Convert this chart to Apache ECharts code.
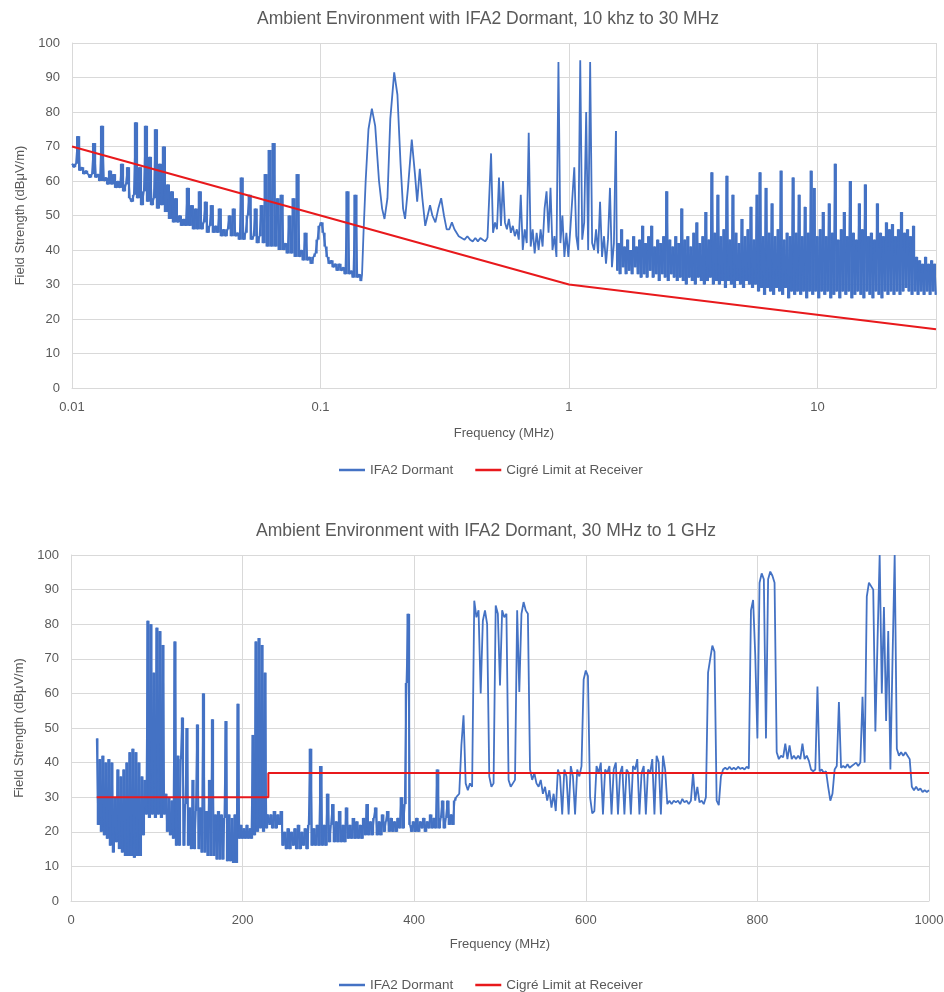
<!DOCTYPE html>
<html><head><meta charset="utf-8">
<script src="https://cdn.jsdelivr.net/npm/echarts@6/dist/echarts.min.js"></script>
<style>html,body{margin:0;padding:0;background:#fff}#c{width:944px;height:992px}</style>
</head><body><div id="c"></div>
<script>
// ---------- Top chart: 10 kHz to 30 MHz (log frequency axis) ----------
const topTitle = 'Ambient Environment with IFA2 Dormant, 10 khz to 30 MHz';
const topTickLabels = ['0.01', '0.1', '1', '10'];
// sweep 1: 0.01 -> 0.146 MHz (levels read in order of frequency)
const topSweep1Range = [0.01, 0.146];
const topSweep1 = [65,64,65,73,63,64,62,63,62,61,62,71,61,62,60,76,60,61,59,63,59,62,58,60,58,65,57,59,64,55,
  54,56,77,55,64,53,57,76,54,67,53,55,75,52,65,53,70,51,59,49,57,48,55,48,50,47,49,47,58,47,
  53,46,52,46,57,46,48,54,45,47,53,45,47,45,52,44,46,44,46,50,44,52,44,45,43,61,43,45,50,56,
  43,44,52,42,44,53,42,62,41,69,41,71,41,55,40,56,40,42,39,50,39,55,38,62,38,40,37,45,37,38,
  36,38,39,43,47,48,45,41,38,36,37,35,36,34,36,34,35,33,57,33,34,32,56,32,33,31];
// LF resonance peaks 0.147 -> 0.47 MHz
const topPeakFreq = [0.147,0.149,0.152,0.156,0.161,0.166,0.172,0.177,0.181,0.186,0.191,0.198,0.204,0.21,0.215,0.219,0.225,0.233,0.24,0.245,0.251,0.257,0.264,0.27,0.276,0.282,0.29,0.298,0.306,0.314,0.322,0.33,0.338,0.346,0.36,0.38,0.39,0.4,0.41,0.42,0.43,0.44,0.45,0.46,0.47];
const topPeakLevel = [33,45,60,75,81,76,60,52,49,55,78,91.5,85,65,52,49,58,72,62,54,63.5,55,47,50,53,50,48,52,55,50,46,46,48,46,44,43,44,43,42.5,43.5,42.5,43.5,43,42.5,43.5];
// sweep 2: 0.477 -> 1.545 MHz (MW broadcast)
const topSweep2Range = [0.477, 1.545];
const topSweep2 = [43,68,45,48,46,61,47,60,48,46,49,45,47,44,46,43,56,40,46,42,74,41,46,39,45,40,46,41,52,57,
  45,58,40,44,38,94.5,42,50,38,45,38,46,55,64,44,40,95,43,48,80,40,94.5,42,40,46,39,54,38,44,36,
  43,58,35,42,74.5];
// sweep 3: 1.56 -> 30 MHz (HF)
const topSweep3Range = [1.56, 30];
const topSweep3 = [34,42,33,46,35,41,33,43,34,40, 33,44,35,41,33,43,32,47,33,42, 32,44,34,47,32,41,33,43,31,42,
  33,44,32,57,31,43,33,41,32,44, 31,42,32,52,31,43,30,44,32,41, 31,45,30,48,32,42,31,44,30,51,
  31,43,32,62.5,30,45,31,56,30,44, 31,46,29,61.5,31,43,30,56,29,45, 31,42,30,49,29,44,31,46,30,52.5,
  29,43,30,56,28,62.5,29,44,27,58, 29,45,28,53.5,27,44,29,46,28,63, 27,43,29,45,26,44,28,61,27,45,
  28,56,27,44,28,52.5,26,45,28,63, 27,58,28,44,26,46,28,51,27,44, 28,53.5,26,45,27,65,28,43,26,46,
  28,51,27,44,28,60,26,45,27,43, 28,53.5,27,46,26,59,28,44,27,45, 26,43,28,53.5,27,45,26,44,28,48,
  27,46,28,47.5,27,44,28,46,27,51, 28,45,29,46,28,44,27,47,28,38, 27,37,28,36,27,38,28,36,27,37,
  28,36,27];
const topLimitFreq = [0.01, 1, 30];
const topLimitLevel = [70, 30, 17];

// ---------- Bottom chart: 30 MHz to 1 GHz (linear axis) ----------
const botTitle = 'Ambient Environment with IFA2 Dormant, 30 MHz to 1 GHz';
const botSweep1Range = [30, 229.5];
const botSweep1 = [47,22,41,20,42,19,40,18,41,16, 40,14,30,17,38,15,36,14,38,13, 40,13,43,13,44,12.5,43,13,40,13,
  36,19,35,25,81,24,80,25,66,24, 79,25,78,24,74,25,31,20,30,19, 29,18,75,16,42,16,41,53,16,28,
  50,16,27,15,35,15,26,51,15,27, 14,60,14,26,13,35,13,52.5,13,25, 12,26,12,25,12,24,52,11.5,25,11.5,
  24,11,25,11,57,18,22,18,21,18, 22,18,21,18,48,19,75,20,76,21, 74,20,66,21,25];
const botSweep2Range = [231, 449];
const botSweep2 = [22,25,21,26,21,25,22,26,16,20, 15,21,15,20,16,21,15,22,15,20, 16,21,15,22,44,16,21,16,22,16,
  39,16,22,16,31,17,22,28,17,23, 17,26,17,22,17,27,18,22,18,24, 18,23,18,22,18,24,19,28,19,23,
  19,24,27,19,23,19,25,20,23,26, 20,24,20,23,20,24,21,30,21,28, 63,83,22,20,23,20,24,20,23,21,
  24,20,23,21,25,21,24,21,38,21, 24,29,21,24,29,22,25,22,29,30];
const botSweep3Range = [450, 1000];
const botSweep3 = [30,31,45,53.7,34,32,34,33,86.8,82, 84,60,81,84,80,36,33,34,85.4,83, 62.3,84,82,83,35,33,34,35,84,60.4,
  83,86.4,84,83,38,35,37,34,33,35, 31,33,29,32,27,31,26,38,36,25, 38,36,25,39,36,25,38,36,39,64,
  66.6,65,30,25.3,26,39,37,40,25,38, 37,39,25,38,40,25,37,39,25,38, 37,25,39,38,41,25,37,39,25,38,
  37,41,25,42,40,25,42,38,28,29, 28,29,28.5,29,28,29.5,28.5,29,28,29, 37,29,33,28.5,29,28,30,66,70,73.8,
  72,29,27.7,36,38,38.5,38,38.8,38,38.5, 38,38.8,38.2,38.5,38,38.8,38.3,84,87,71, 47,92,94.7,93,47,93,95.2,94,92,43,
  41,42,41.5,45.5,41,45,41,42,41,42, 41,45.5,41,42,40.5,38,37.5,38,62,37.5, 38,37,37.5,33,29,31,38,39,57.5,38.5,
  39,38.5,39.5,38.5,39,39.5,40,39,40,59, 40,88,92,91,90,49,75,100,60,85, 52,78,38,70,100,44,42,43,42,43,
  42,41,33,32,33,32,32.5,31.5,32,31.5, 32];
const botLimitFreq = [30, 230, 230, 1000];
const botLimitLevel = [30, 30, 37, 37];

const seriesNames = ['IFA2 Dormant', 'Cigré Limit at Receiver'];

// ---------- build [x, y] pairs ----------
function spread(range, vals, isLog) {
  const n = vals.length - 1;
  return vals.map((v, i) => {
    const x = isLog
      ? Math.pow(10, Math.log10(range[0]) + (Math.log10(range[1]) - Math.log10(range[0])) * i / n)
      : range[0] + (range[1] - range[0]) * i / n;
    return [x, v];
  });
}
function pairs(xs, ys) { return xs.map((x, i) => [x, ys[i]]); }

// segments of the blue trace: [points, dense sweep (filled between successive readings)?]
const topSegs = [
  [spread(topSweep1Range, topSweep1, true), true],
  [pairs(topPeakFreq, topPeakLevel), false],
  [spread(topSweep2Range, topSweep2, true), false],
  [spread(topSweep3Range, topSweep3, true), true]
];
const botSegs = [
  [spread(botSweep1Range, botSweep1, false), true],
  [spread(botSweep2Range, botSweep2, false), true],
  [spread(botSweep3Range, botSweep3, false), false]
];

const FONT = "'Liberation Sans', Arial, sans-serif";
const TXT = '#595959';
const GRID = '#d9d9d9';
const BLUE = '#4472C4';
const RED = '#E8191C';

function blueSeries(segs, axisIdx) {
  return segs.map((s, k) => {
    const pts = k > 0 ? [segs[k - 1][0][segs[k - 1][0].length - 1]].concat(s[0]) : s[0];
    return {
      name: seriesNames[0], type: 'line', xAxisIndex: axisIdx, yAxisIndex: axisIdx,
      data: pts, symbol: 'none',
      color: BLUE, lineStyle: { color: BLUE, width: 1.8 }, z: 2
    };
  });
}
// dense sweeps: fill the span between successive readings so the noise band reads solid
function bandSeries(segs, axisIdx) {
  return segs.filter(s => s[1]).map(s => {
    const pts = s[0];
    return {
      name: seriesNames[0], type: 'custom', xAxisIndex: axisIdx, yAxisIndex: axisIdx,
      data: pts, clip: true, silent: true, z: 1, itemStyle: { color: BLUE },
      renderItem: function (params, api) {
        const i = params.dataIndex;
        if (i === 0) return null;
        const a = api.coord(pts[i - 1]);
        const b = api.coord(pts[i]);
        const top = Math.min(a[1], b[1]);
        const bot = Math.max(a[1], b[1]);
        return { type: 'rect',
          shape: { x: a[0], y: top, width: (b[0] - a[0]) + 0.25, height: bot - top },
          style: { fill: BLUE } };
      }
    };
  });
}

function yAxisDef(idx) {
  return {
    type: 'value', gridIndex: idx, min: 0, max: 100, interval: 10,
    name: 'Field Strength (dBμV/m)', nameLocation: 'middle', nameGap: 44, nameRotate: 90,
    nameTextStyle: { color: TXT, fontSize: 13, fontFamily: FONT },
    axisLine: { show: true, lineStyle: { color: GRID } },
    axisTick: { show: false },
    axisLabel: { color: TXT, fontSize: 13, fontFamily: FONT, margin: 12 },
    splitLine: { show: true, lineStyle: { color: GRID, width: 1 } }
  };
}
function legendDef(top) {
  return {
    data: seriesNames, top: top, left: 334, icon: 'rect', itemWidth: 26, itemHeight: 2.5, itemGap: 22,
    textStyle: { color: TXT, fontSize: 13.5, fontFamily: FONT }
  };
}

const option = {
  animation: false,
  backgroundColor: '#ffffff',
  title: [
    { text: topTitle, left: 483, top: 5, textAlign: 'center',
      textStyle: { color: TXT, fontSize: 17.5, fontWeight: 'normal', fontFamily: FONT } },
    { text: botTitle, left: 481, top: 517, textAlign: 'center',
      textStyle: { color: TXT, fontSize: 17.5, fontWeight: 'normal', fontFamily: FONT } }
  ],
  legend: [legendDef(458), legendDef(973)],
  grid: [
    { left: 72, top: 43, width: 864, height: 345, outerBoundsMode: 'none', containLabel: false },
    { left: 71, top: 555, width: 858, height: 346, outerBoundsMode: 'none', containLabel: false }
  ],
  xAxis: [
    { type: 'log', logBase: 10, gridIndex: 0, min: 0.01, max: 30,
      name: 'Frequency (MHz)', nameLocation: 'middle', nameGap: 39,
      nameTextStyle: { color: TXT, fontSize: 13, fontFamily: FONT },
      axisLine: { show: true, lineStyle: { color: GRID } },
      axisTick: { show: false },
      axisLabel: { color: TXT, fontSize: 13, fontFamily: FONT, margin: 13,
        formatter: function (v) {
          const s = String(Number(v.toPrecision(6)));
          return topTickLabels.indexOf(s) >= 0 ? s : '';
        } },
      splitLine: { show: true, lineStyle: { color: GRID } },
      minorTick: { show: false }, minorSplitLine: { show: false } },
    { type: 'value', gridIndex: 1, min: 0, max: 1000, interval: 200,
      name: 'Frequency (MHz)', nameLocation: 'middle', nameGap: 37,
      nameTextStyle: { color: TXT, fontSize: 13, fontFamily: FONT },
      axisLine: { show: true, lineStyle: { color: GRID } },
      axisTick: { show: false },
      axisLabel: { color: TXT, fontSize: 13, fontFamily: FONT, margin: 13,
        formatter: function (v) { return String(v); } },
      splitLine: { show: true, lineStyle: { color: GRID } } }
  ],
  yAxis: [yAxisDef(0), yAxisDef(1)],
  series: [].concat(
    blueSeries(topSegs, 0),
    [{ name: seriesNames[1], type: 'line', xAxisIndex: 0, yAxisIndex: 0,
      data: pairs(topLimitFreq, topLimitLevel),
      symbol: 'none', color: RED, lineStyle: { color: RED, width: 2 }, z: 3 }],
    blueSeries(botSegs, 1),
    [{ name: seriesNames[1], type: 'line', xAxisIndex: 1, yAxisIndex: 1,
      data: pairs(botLimitFreq, botLimitLevel),
      symbol: 'none', color: RED, lineStyle: { color: RED, width: 2 }, z: 3 }],
    bandSeries(topSegs, 0),
    bandSeries(botSegs, 1)
  )
};
const chart = echarts.init(document.getElementById('c'), null, { renderer: 'canvas' });
chart.setOption(option);
</script></body></html>
